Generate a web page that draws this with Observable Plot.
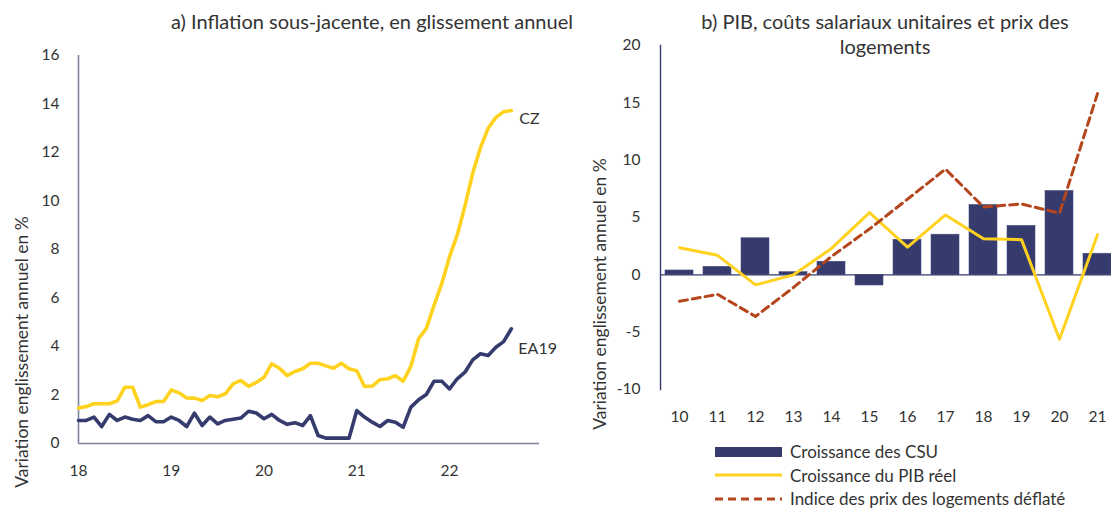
<!DOCTYPE html>
<html><head><meta charset="utf-8">
<script src="https://cdn.jsdelivr.net/npm/d3@7"></script>
<script src="https://cdn.jsdelivr.net/npm/@observablehq/plot@0.6"></script>
<style>
body{margin:0;background:#fff;font-family:Lato,"Open Sans",sans-serif;color:#333;}
#wrap{position:relative;width:1111px;height:508px;overflow:hidden;background:#fff;}
.abs{position:absolute;}
.title{font-size:20px;line-height:25px;color:#333;text-align:center;white-space:nowrap;}
.ylab{font-size:17.5px;line-height:20px;width:340px;text-align:center;color:#333;white-space:nowrap;transform:rotate(-90deg);}
.leg{font-size:17px;color:#333;line-height:23.5px;}
.leg div{display:flex;align-items:center;height:23.5px;}
.leg svg{margin-right:8px;}
</style></head>
<body><div id="wrap"></div>
<script>
// ---------- Data: panel a (monthly, Jan 2018 – Sep 2022) ----------
const startYearA = 18;            // Jan 2018
const seriesNamesA = ["CZ", "EA19"];
const czCore = [1.46,1.52,1.64,1.64,1.64,1.75,2.32,2.32,1.5,1.6,1.73,1.73,
  2.21,2.09,1.88,1.87,1.77,1.98,1.93,2.05,2.46,2.6,2.36,2.52,
  2.73,3.29,3.1,2.8,2.97,3.08,3.31,3.31,3.2,3.1,3.31,3.08,
  3.0,2.35,2.37,2.63,2.67,2.8,2.57,3.18,4.32,4.75,5.7,6.6,
  7.7,8.6,9.8,11.15,12.2,13.0,13.45,13.68,13.73];
const ea19Core = [0.95,0.95,1.09,0.7,1.2,0.95,1.09,1.0,0.95,1.15,0.9,0.9,
  1.09,0.95,0.7,1.25,0.74,1.09,0.81,0.95,1.0,1.05,1.33,1.26,
  1.02,1.2,0.95,0.79,0.86,0.74,1.15,0.33,0.22,0.22,0.22,0.22,
  1.36,1.09,0.88,0.7,0.95,0.88,0.67,1.5,1.8,2.02,2.57,2.57,
  2.25,2.67,2.94,3.45,3.7,3.63,3.97,4.2,4.73];
const xTicksA = [18, 19, 20, 21, 22];
const yTicksA = [0, 2, 4, 6, 8, 10, 12, 14, 16];

// ---------- Data: panel b (annual, 2010 – 2021) ----------
const yearsB = ["10","11","12","13","14","15","16","17","18","19","20","21"];
const csuGrowth = [0.38,0.7,3.19,0.23,1.14,-0.93,3.06,3.5,6.09,4.27,7.31,1.84];
const gdpGrowth = [2.37,1.7,-0.88,0.0,2.3,5.43,2.42,5.22,3.15,3.07,-5.62,3.5];
const housePrice = [-2.31,-1.7,-3.63,-1.1,1.6,4.0,6.6,9.22,5.92,6.18,5.38,15.8];
const yTicksB = [-10, -5, 0, 5, 10, 15, 20];
const legendB = ["Croissance des CSU", "Croissance du PIB réel", "Indice des prix des logements déflaté"];

const titleA = "a) Inflation sous-jacente, en glissement annuel";
const titleB = ["b) PIB, coûts salariaux unitaires et prix des", "logements"];
const yLabel = "Variation englissement annuel en %";

// ---------- styles ----------
const navy = "#363b6e", yellow = "#ffd21f", rust = "#b4451c", axisA = "#7f829e", txt = "#333";
const wrap = document.getElementById("wrap");
const font = {fontFamily: "Lato, 'Open Sans', sans-serif", fontSize: "15.5px", color: txt, background: "transparent", overflow: "visible"};

// ---------- panel a ----------
const rowsA = [
  ...czCore.map((v, i) => ({t: startYearA + i / 12, v, s: seriesNamesA[0]})),
  ...ea19Core.map((v, i) => ({t: startYearA + i / 12, v, s: seriesNamesA[1]}))
];
const lastA = seriesNamesA.map(s => rowsA.filter(d => d.s === s).at(-1));

const plotA = Plot.plot({
  width: 590, height: 440,
  marginTop: 15, marginBottom: 37, marginLeft: 78, marginRight: 51,
  style: font,
  x: {domain: [18, 22.97]},
  y: {domain: [0, 16]},
  color: {domain: seriesNamesA, range: [yellow, navy]},
  marks: [
    Plot.axisX({ticks: xTicksA, tickSize: 0, tickPadding: 21, tickFormat: d => String(d), label: null}),
    Plot.axisY({ticks: yTicksA, tickSize: 0, tickPadding: 19, tickFormat: d => String(d), label: null}),
    Plot.ruleX([18], {stroke: axisA, strokeWidth: 1.6}),
    Plot.ruleY([0], {stroke: axisA, strokeWidth: 1.6}),
    Plot.line(rowsA, {x: "t", y: "v", z: "s", stroke: "s", strokeWidth: 3.6, strokeLinejoin: "round"}),
    Plot.text([lastA[0]], {x: "t", y: "v", text: "s", dx: 8, dy: 8, textAnchor: "start", fill: txt, fontSize: 16}),
    Plot.text([lastA[1]], {x: "t", y: "v", text: "s", dx: 7, dy: 20, textAnchor: "start", fill: txt, fontSize: 16})
  ]
});
plotA.style.position = "absolute"; plotA.style.left = "0px"; plotA.style.top = "40px";
wrap.appendChild(plotA);

// ---------- panel b ----------
const rowsB = yearsB.map((yr, i) => ({yr, csu: csuGrowth[i], gdp: gdpGrowth[i], house: housePrice[i]}));
const plotB = Plot.plot({
  width: 530, height: 400,
  marginTop: 5, marginBottom: 51, marginLeft: 70, marginRight: 4,
  style: font,
  x: {domain: yearsB, type: "band", paddingInner: 0.27, paddingOuter: 0.1},
  y: {domain: [-10, 20]},
  marks: [
    Plot.axisX({tickSize: 0, tickPadding: 21, label: null}),
    Plot.axisY({ticks: yTicksB, tickSize: 0, tickPadding: 20, tickFormat: d => String(d), label: null}),
    Plot.barY(rowsB, {x: "yr", y: "csu", fill: navy, stroke: "#4a4f80", strokeWidth: 0.6}),
    Plot.ruleY([0], {stroke: navy, strokeWidth: 1.2}),
    Plot.frame({anchor: "left", stroke: navy, strokeWidth: 1.4}),
    Plot.line(rowsB, {x: "yr", y: "gdp", stroke: yellow, strokeWidth: 3}),
    Plot.line(rowsB, {x: "yr", y: "house", stroke: rust, strokeWidth: 3, strokeDasharray: "8,5"})
  ]
});
plotB.style.position = "absolute"; plotB.style.left = "590px"; plotB.style.top = "40px";
wrap.appendChild(plotB);

// ---------- titles ----------
function addDiv(cls, html, css) {
  const d = document.createElement("div");
  d.className = "abs " + cls;
  d.innerHTML = html;
  Object.assign(d.style, css);
  wrap.appendChild(d);
  return d;
}
addDiv("title", titleA, {left: "171px", width: "400px", top: "9px"});
addDiv("title", titleB.join("<br>"), {left: "685px", width: "400px", top: "9px"});
// rotated y labels (centered at given point)
addDiv("ylab", yLabel, {left: (22 - 170) + "px", top: (352 - 10) + "px"});
addDiv("ylab", yLabel, {left: (600 - 170) + "px", top: (294 - 10) + "px"});

// ---------- legend ----------
const swatches = [
  '<svg width="67" height="12"><rect x="0" y="1" width="67" height="10" fill="' + navy + '"/></svg>',
  '<svg width="67" height="12"><line x1="0" x2="67" y1="6" y2="6" stroke="' + yellow + '" stroke-width="3"/></svg>',
  '<svg width="67" height="12"><line x1="0" x2="67" y1="6" y2="6" stroke="' + rust + '" stroke-width="3" stroke-dasharray="8,5"/></svg>'
];
addDiv("leg", legendB.map((t, i) => '<div>' + swatches[i] + '<span>' + t + '</span></div>').join(""), {left: "715px", top: "440px"});
</script>
</body></html>
